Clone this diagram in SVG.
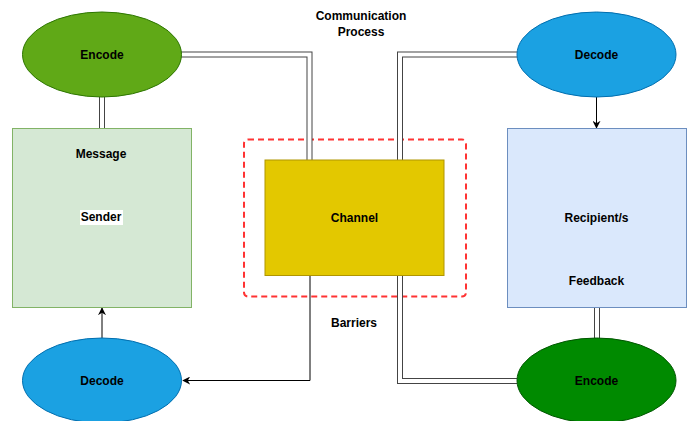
<svg xmlns="http://www.w3.org/2000/svg" width="691" height="421" viewBox="0 0 691 421">
  <style>
    text { font-family: "Liberation Sans", Arial, sans-serif; font-size: 12px; font-weight: bold; fill: #000; text-anchor: middle; }
    .link-outer { fill: none; stroke: #444; stroke-width: 6; }
    .link-inner { fill: none; stroke: #fff; stroke-width: 4; }
    .arrow { fill: none; stroke: #000; stroke-width: 1; marker-end: url(#head); }
  </style>
  <defs>
    <marker id="head" viewBox="0 0 10 10" refX="9" refY="5" markerWidth="8" markerHeight="8" markerUnits="userSpaceOnUse" orient="auto">
      <path d="M0,0 L10,5 L0,10 L3,5 Z" fill="#000"/>
    </marker>
  </defs>
  <rect width="691" height="421" fill="#fff"/>

  <!-- Barrier zone around the channel -->
  <g id="barrier-zone">
    <rect x="244" y="139.5" width="222" height="157" rx="4" fill="none" stroke="#ff3333" stroke-width="2" stroke-dasharray="6,4"/>
  </g>

  <!-- Connectors -->
  <g id="connectors">
    <path class="link-outer" d="M181,54.5 H309.5 V160"/>
    <path class="link-inner" d="M181,54.5 H309.5 V160"/>
    <path class="link-outer" d="M102,97 V128"/>
    <path class="link-inner" d="M102,97 V128"/>
    <path class="link-outer" d="M517,54.5 H400 V160"/>
    <path class="link-inner" d="M517,54.5 H400 V160"/>
    <path class="link-outer" d="M400,276 V381 H517"/>
    <path class="link-inner" d="M400,276 V381 H517"/>
    <path class="link-outer" d="M597,307 V338"/>
    <path class="link-inner" d="M597,307 V338"/>
    <path class="arrow" d="M310,276 V380.5 H183"/>
    <path class="arrow" d="M596.5,97 V128"/>
    <path class="arrow" d="M102,338 V308"/>
  </g>

  <g id="title">
    <text x="361" y="20">Communication</text>
    <text x="361" y="36">Process</text>
  </g>

  <g id="encode-sender">
    <ellipse cx="102" cy="54.5" rx="79.5" ry="42.5" fill="#60a917" stroke="#2d7600"/>
    <text x="102" y="59">Encode</text>
  </g>

  <g id="sender">
    <rect x="12.5" y="128.5" width="179" height="179" fill="#d5e8d4" stroke="#82b366"/>
    <text x="101" y="158">Message</text>
    <rect x="80" y="210" width="43" height="15" fill="#fff"/>
    <text x="101" y="221">Sender</text>
  </g>

  <g id="decode-sender">
    <ellipse cx="102" cy="380.5" rx="79.5" ry="42.5" fill="#1ba1e2" stroke="#006eaf"/>
    <text x="102" y="385">Decode</text>
  </g>

  <g id="channel">
    <rect x="265" y="160" width="179" height="115.5" fill="#e3c800" stroke="#b09500"/>
    <text x="354.5" y="222">Channel</text>
  </g>

  <g id="barriers-label">
    <text x="354" y="327">Barriers</text>
  </g>

  <g id="decode-recipient">
    <ellipse cx="596.5" cy="54.5" rx="79.5" ry="42.5" fill="#1ba1e2" stroke="#006eaf"/>
    <text x="596.5" y="59">Decode</text>
  </g>

  <g id="recipient">
    <rect x="507.5" y="128.5" width="179" height="179" fill="#dae8fc" stroke="#6c8ebf"/>
    <text x="596.5" y="221.5">Recipient/s</text>
    <text x="596.5" y="284.5">Feedback</text>
  </g>

  <g id="encode-recipient">
    <ellipse cx="596.5" cy="380.5" rx="79.5" ry="42.5" fill="#008a00" stroke="#005700"/>
    <text x="596.5" y="385">Encode</text>
  </g>
</svg>
